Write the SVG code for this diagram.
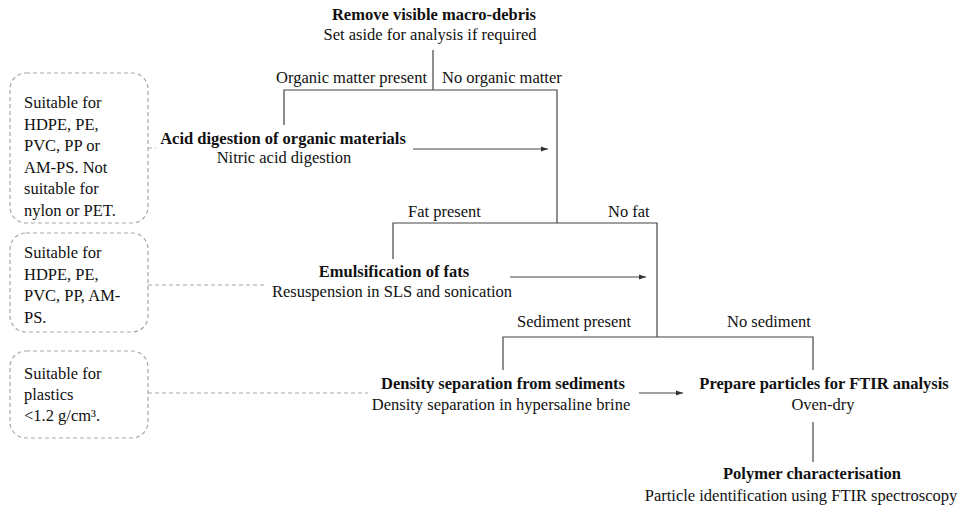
<svg xmlns="http://www.w3.org/2000/svg" width="976" height="514" viewBox="0 0 976 514">
<style>
text{font-family:"Liberation Serif","DejaVu Serif",serif;font-size:16.5px;fill:#111}
.b{font-weight:bold}
.m{text-anchor:middle}
.e{text-anchor:end}
.ln{stroke:#444;stroke-width:1.2;fill:none}
.dash{stroke:#a8a8a8;stroke-width:1.2;fill:none;stroke-dasharray:4 3}
</style>
<defs>
<marker id="ah" viewBox="0 0 10 10" refX="10" refY="5" markerWidth="7" markerHeight="7" markerUnits="userSpaceOnUse" orient="auto">
<path d="M0,1.5 L10,5 L0,8.5 Z" fill="#333"/>
</marker>
</defs>

<g id="connectors">
<path class="ln" d="M433,50 V90"/>
<path class="ln" d="M284,125 V90 H557 V223"/>
<path class="ln" d="M393,259 V223 H657 V337"/>
<path class="ln" d="M503,370 V337 H813 V370"/>
<path class="ln" d="M813,422 V462"/>
<path class="ln" d="M413,149 H548" marker-end="url(#ah)"/>
<path class="ln" d="M510,277 H646" marker-end="url(#ah)"/>
<path class="ln" d="M639,393 H683" marker-end="url(#ah)"/>
<path class="dash" d="M148,148 H156"/>
<path class="dash" d="M148,285 H266"/>
<path class="dash" d="M148,393 H368"/>
</g>

<g id="labels">
<text class="e" x="427" y="83">Organic matter present</text>
<text x="442" y="83">No organic matter</text>
<text x="408" y="217">Fat present</text>
<text x="608" y="217">No fat</text>
<text x="517" y="327">Sediment present</text>
<text x="727" y="327">No sediment</text>
</g>

<g id="remove">
<text class="b m" x="434" y="20">Remove visible macro-debris</text>
<text class="m" x="430" y="40">Set aside for analysis if required</text>
</g>

<g id="acid">
<text class="b m" x="283" y="144">Acid digestion of organic materials</text>
<text class="m" x="284" y="163">Nitric acid digestion</text>
</g>

<g id="emulsify">
<text class="b m" x="394" y="277">Emulsification of fats</text>
<text class="m" x="392" y="297">Resuspension in SLS and sonication</text>
</g>

<g id="density">
<text class="b m" x="503" y="389">Density separation from sediments</text>
<text class="m" x="501" y="410">Density separation in hypersaline brine</text>
</g>

<g id="prepare">
<text class="b m" x="824" y="389">Prepare particles for FTIR analysis</text>
<text class="m" x="823" y="410">Oven-dry</text>
</g>

<g id="polymer">
<text class="b m" x="812" y="479">Polymer characterisation</text>
<text class="m" x="801" y="501">Particle identification using FTIR spectroscopy</text>
</g>

<g id="note1">
<rect class="dash" x="10" y="73" width="138" height="150" rx="16"/>
<text x="24" y="108">Suitable for</text>
<text x="24" y="130">HDPE, PE,</text>
<text x="24" y="151">PVC, PP or</text>
<text x="24" y="173">AM-PS. Not</text>
<text x="24" y="194">suitable for</text>
<text x="24" y="216">nylon or PET.</text>
</g>

<g id="note2">
<rect class="dash" x="10" y="233" width="138" height="99" rx="16"/>
<text x="24" y="258">Suitable for</text>
<text x="24" y="280">HDPE, PE,</text>
<text x="24" y="301">PVC, PP, AM-</text>
<text x="24" y="323">PS.</text>
</g>

<g id="note3">
<rect class="dash" x="10" y="351" width="138" height="87" rx="16"/>
<text x="24" y="379">Suitable for</text>
<text x="24" y="400">plastics</text>
<text x="24" y="421">&lt;1.2 g/cm³.</text>
</g>
</svg>
